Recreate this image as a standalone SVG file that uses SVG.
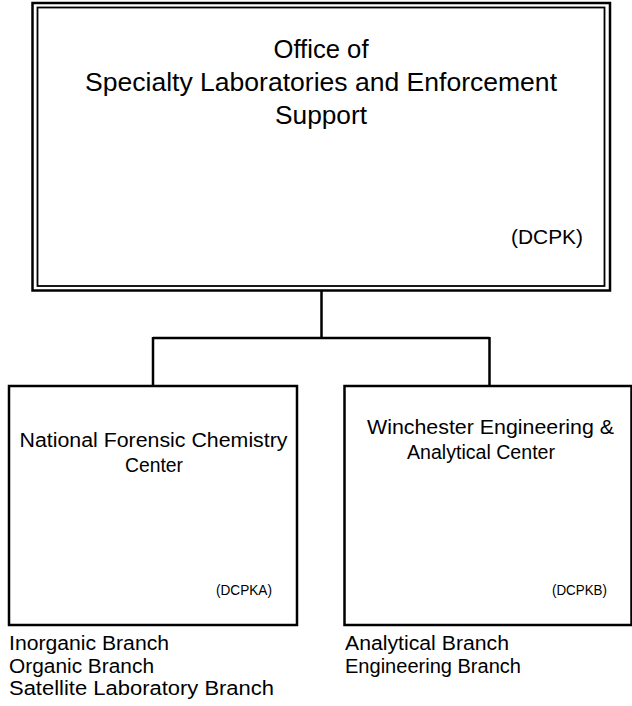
<svg xmlns="http://www.w3.org/2000/svg" width="632" height="706" viewBox="0 0 632 706">
<style>
  .box { fill: #ffffff; stroke: #000000; }
  .conn { fill: none; stroke: #000000; stroke-width: 2.5; }
  text { font-family: "Liberation Sans", Arial, sans-serif; fill: #000000; }
  .t1 { font-size: 25px; text-anchor: middle; }
  .t2 { font-size: 19.5px; text-anchor: middle; }
  .code { font-size: 15.5px; }
  .br { font-size: 20px; }
</style>
<rect width="632" height="706" fill="#ffffff"/>
<g id="node-dcpk">
  <rect class="box" x="32.5" y="3" width="577.5" height="287.5" stroke-width="2.5"/>
  <rect class="box" x="37.5" y="7.5" width="567" height="278.5" stroke-width="1.8"/>
  <text class="t1" x="321" y="58" textLength="95" lengthAdjust="spacingAndGlyphs">Office of</text>
  <text class="t1" x="321" y="91" textLength="472" lengthAdjust="spacingAndGlyphs">Specialty Laboratories and Enforcement</text>
  <text class="t1" x="321" y="124" textLength="92" lengthAdjust="spacingAndGlyphs">Support</text>
  <text x="511" y="244" font-size="21" textLength="72" lengthAdjust="spacingAndGlyphs">(DCPK)</text>
</g>
<g id="connectors">
  <path class="conn" d="M321.5 290 V338 M153 338 H489.5 M153 337 V386 M489.5 337 V386"/>
</g>
<g id="node-dcpka">
  <rect class="box" x="9" y="386" width="288" height="239" stroke-width="2.5"/>
  <text class="t2" x="153.5" y="447" textLength="268" lengthAdjust="spacingAndGlyphs">National Forensic Chemistry</text>
  <text class="t2" x="154" y="472" textLength="58" lengthAdjust="spacingAndGlyphs">Center</text>
  <text class="code" x="216" y="595" textLength="56" lengthAdjust="spacingAndGlyphs">(DCPKA)</text>
</g>
<g id="node-dcpkb">
  <rect class="box" x="344.5" y="386" width="287" height="239" stroke-width="2.5"/>
  <text class="t2" x="490.5" y="434" textLength="247" lengthAdjust="spacingAndGlyphs">Winchester Engineering &amp;</text>
  <text class="t2" x="481" y="459" textLength="148" lengthAdjust="spacingAndGlyphs">Analytical Center</text>
  <text class="code" x="552" y="595" textLength="55" lengthAdjust="spacingAndGlyphs">(DCPKB)</text>
</g>
<g id="branches-dcpka">
  <text class="br" x="9" y="650" textLength="160" lengthAdjust="spacingAndGlyphs">Inorganic Branch</text>
  <text class="br" x="9" y="672.5" textLength="145" lengthAdjust="spacingAndGlyphs">Organic Branch</text>
  <text class="br" x="9" y="695" textLength="265" lengthAdjust="spacingAndGlyphs">Satellite Laboratory Branch</text>
</g>
<g id="branches-dcpkb">
  <text class="br" x="345" y="650" textLength="164" lengthAdjust="spacingAndGlyphs">Analytical Branch</text>
  <text class="br" x="345" y="672.5" textLength="176" lengthAdjust="spacingAndGlyphs">Engineering Branch</text>
</g>
</svg>
